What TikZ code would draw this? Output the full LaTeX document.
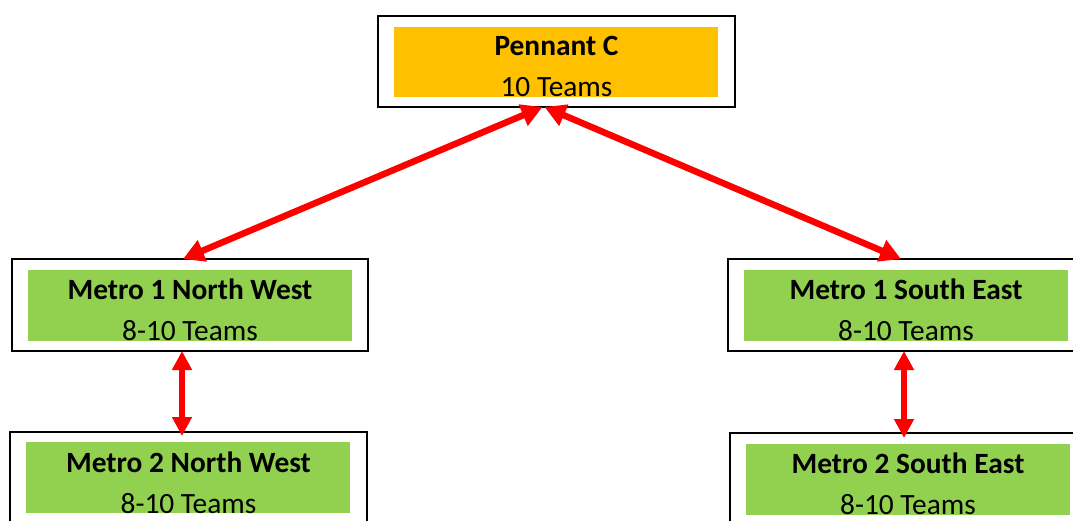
\documentclass[tikz,border=0pt]{standalone}
\usepackage{fontspec}
\setmainfont{Carlito}
\usetikzlibrary{arrows.meta}
\definecolor{penorange}{HTML}{FFC000}
\definecolor{metgreen}{HTML}{92D050}
\tikzset{
  box/.style={draw=black, line width=2pt, minimum width=357pt, minimum height=92pt,
    inner sep=0pt, outer sep=0pt, align=center, font=\fontsize{29.4}{41}\selectfont},
  fillbox/.style={draw=none, minimum width=324pt, minimum height=71pt, inner sep=0pt, outer sep=0pt},
  diagarrow/.style={draw=red, line width=6.5pt, {Triangle[length=21pt,width=22pt]}-{Triangle[length=21pt,width=22pt]}},
  vertarrow/.style={draw=red, line width=5.5pt, {Triangle[length=19pt,width=19pt]}-{Triangle[length=19pt,width=19pt]}},
}
\newcommand{\tstrut}{\rule{0pt}{30pt}}
\begin{document}
\begin{tikzpicture}[x=1pt, y=-1pt]
\useasboundingbox (0,0) rectangle (1073,520);
\clip (0,0) rectangle (1073,520);
% fills
\node[fillbox, fill=penorange, minimum height=70pt] (pcf) at (556,62) {};
\node[fillbox, fill=metgreen] (nw1f) at (190,305.5) {};
\node[fillbox, fill=metgreen] (nw2f) at (188,477.5) {};
\node[fillbox, fill=metgreen] (se1f) at (906,305.5) {};
\node[fillbox, fill=metgreen] (se2f) at (908,479) {};
% boxes with text
\node[box, minimum height=91pt] (pc) at (556.5,61.5) {\tstrut\textbf{Pennant C}\\10 Teams};
\node[box, minimum width=356pt] (nw1) at (190,305) {\tstrut\textbf{Metro 1 North West}\\8-10 Teams};
\node[box] (nw2) at (188.5,478) {\tstrut\textbf{Metro 2 North West}\\8-10 Teams};
\node[box, minimum width=356pt] (se1) at (906,305) {\tstrut\textbf{Metro 1 South East}\\8-10 Teams};
\node[box] (se2) at (908,479) {\tstrut\textbf{Metro 2 South East}\\8-10 Teams};
% connectors
\draw[diagarrow] ([xshift=-14pt]pc.south) -- ([xshift=-7pt]nw1.north);
\draw[diagarrow] ([xshift=-12pt]pc.south) -- ([xshift=-5pt]se1.north);
\draw[vertarrow] ([xshift=-8pt]nw1.south) -- ([xshift=-8pt,yshift=-4pt]nw1.south |- nw2.north);
\draw[vertarrow] ([xshift=-2pt]se1.south) -- ([xshift=-2pt,yshift=-5pt]se1.south |- se2.north);
\end{tikzpicture}
\end{document}
